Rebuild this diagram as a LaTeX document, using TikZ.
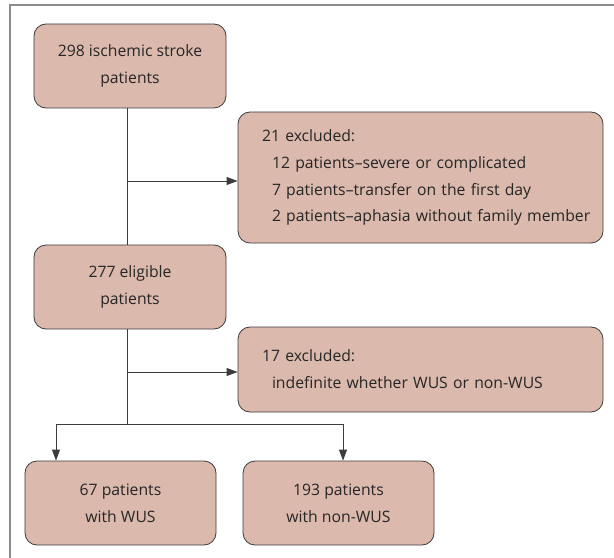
\documentclass[tikz,border=0pt]{standalone}
\usepackage{fontspec}
\setmainfont{Open Sans}
\usetikzlibrary{arrows.meta}
\definecolor{boxfill}{RGB}{219,185,173}
\definecolor{boxline}{RGB}{60,60,60}
\definecolor{framegray}{RGB}{140,140,140}
\hfuzz=30pt
\begin{document}
\begin{tikzpicture}[x=1bp, y=-1bp,
  every node/.style={font=\fontsize{15.8}{27}\selectfont, text=black!85},
  stepbox/.style={draw=boxline, fill=boxfill, line width=0.8bp, rounded corners=12bp,
    minimum height=84bp, minimum width=192bp, align=center, inner sep=0pt},
  exclbox/.style={stepbox, minimum width=365bp, text width=317bp, align=left, inner xsep=24bp},
  link/.style={draw=boxline, line width=0.8bp},
  arr/.style={link, -{Triangle[length=11bp, width=8bp]}}]
  \useasboundingbox (0,0) rectangle (614,558);
  \draw [framegray, line width=1.2bp] (10,558) -- (10,5) -- (614,5);
  \node [stepbox] (b1) at (130,66) {298 ischemic stroke\\patients};
  \node [exclbox, minimum height=131bp] (x1) at (420.5,177.5) {21 excluded:\\
    \mbox{\hspace*{10bp}12 patients--severe or complicated}\\
    \mbox{\hspace*{10bp}7 patients--transfer on the first day}\\
    \mbox{\hspace*{10bp}2 patients--aphasia without family member}};
  \node [stepbox] (b2) at (130,287) {277 eligible\\patients};
  \node [exclbox, minimum height=85bp] (x2) at (420.5,369.5) {17 excluded:\\
    \mbox{\hspace*{10bp}indefinite whether WUS or non-WUS}};
  \node [stepbox, minimum width=191bp] (b3) at (120.5,503) {67 patients\\with WUS};
  \node [stepbox, minimum width=191bp] (b4) at (338.5,503) {193 patients\\with non-WUS};
  \coordinate (t1) at (127,181);
  \coordinate (t2) at (127,372);
  \coordinate (split) at (127,424);
  \coordinate (sl) at (56,424);
  \coordinate (sr) at (343,424);
  \draw [link] (b1.south -| t1) -- (b2.north -| t1);
  \draw [arr] (t1) -- (t1 -| x1.west);
  \draw [link] (b2.south -| t2) -- (split);
  \draw [arr] (t2) -- (t2 -| x2.west);
  \draw [link] (sl) -- (sr);
  \draw [arr] (sl) -- (b3.north -| sl);
  \draw [arr] (sr) -- (b4.north -| sr);
\end{tikzpicture}
\end{document}
